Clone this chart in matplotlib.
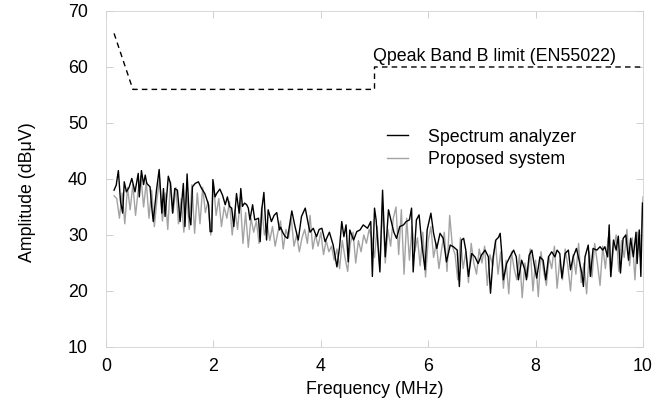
import numpy as np
import matplotlib.pyplot as plt

plt.rcParams['font.family'] = ['Liberation Sans', 'DejaVu Sans']
FS = 12.8

# EN55022 class B quasi-peak limit
limit_freq = [0.15, 0.50, 5.0, 5.0, 10.0]
limit_amp = [66.0, 56.0, 56.0, 60.0, 60.0]

# spectrum analyzer trace
sa_freq = [0.15, 0.19, 0.23, 0.27, 0.31, 0.34, 0.38, 0.43, 0.48, 0.54,
           0.60, 0.62, 0.66, 0.70, 0.73, 0.76, 0.82, 0.85, 0.88, 0.94,
           0.99, 1.04, 1.07, 1.10, 1.16, 1.20, 1.24, 1.28, 1.33, 1.38,
           1.44, 1.47, 1.51, 1.55, 1.58, 1.61, 1.66, 1.72, 1.78, 1.84,
           1.91, 1.94, 1.97, 1.99, 2.03, 2.06, 2.12, 2.17, 2.22, 2.26,
           2.30, 2.34, 2.38, 2.43, 2.48, 2.51, 2.54, 2.58, 2.62, 2.65,
           2.68, 2.73, 2.77, 2.84, 2.87, 2.90, 2.94, 2.99, 3.02, 3.08,
           3.13, 3.18, 3.23, 3.25, 3.30, 3.34, 3.38, 3.46, 3.52, 3.58,
           3.64, 3.71, 3.77, 3.80, 3.86, 3.92, 3.97, 4.02, 4.08, 4.16,
           4.23, 4.30, 4.35, 4.39, 4.43, 4.47, 4.51, 4.54, 4.61, 4.67,
           4.73, 4.79, 4.87, 4.93, 4.96, 5.00, 5.03, 5.10, 5.15, 5.20,
           5.26, 5.32, 5.36, 5.41, 5.47, 5.54, 5.59, 5.65, 5.69, 5.72,
           5.78, 5.83, 5.88, 5.94, 5.98, 6.05, 6.10, 6.16, 6.22, 6.28,
           6.34, 6.41, 6.47, 6.54, 6.58, 6.62, 6.66, 6.70, 6.75, 6.81,
           6.87, 6.93, 6.99, 7.06, 7.12, 7.16, 7.21, 7.26, 7.31, 7.34,
           7.37, 7.40, 7.46, 7.52, 7.59, 7.64, 7.68, 7.74, 7.80, 7.83,
           7.88, 7.93, 7.97, 8.02, 8.08, 8.14, 8.19, 8.24, 8.30, 8.36,
           8.40, 8.45, 8.49, 8.55, 8.61, 8.65, 8.70, 8.76, 8.81, 8.86,
           8.89, 8.92, 8.98, 9.02, 9.07, 9.14, 9.20, 9.25, 9.29, 9.34,
           9.37, 9.40, 9.45, 9.50, 9.54, 9.58, 9.63, 9.68, 9.73, 9.77,
           9.82, 9.87, 9.89, 9.93, 9.96, 9.99]
sa_amp = [38.0, 38.9, 41.5, 36.0, 33.9, 39.5, 37.7, 38.5, 40.1, 37.7,
          41.0, 36.8, 41.5, 39.0, 40.7, 39.2, 38.6, 35.1, 32.4, 38.0,
          41.7, 33.9, 38.3, 33.3, 40.5, 39.2, 33.9, 38.3, 38.0, 32.4,
          39.2, 31.5, 40.9, 33.3, 31.8, 38.6, 39.2, 39.5, 38.3, 37.4,
          35.4, 30.6, 30.6, 39.9, 36.8, 37.4, 38.2, 37.1, 35.4, 36.8,
          35.1, 34.8, 31.5, 37.4, 33.9, 38.3, 35.1, 35.7, 35.4, 34.8,
          32.7, 35.4, 32.7, 33.0, 28.8, 34.5, 37.6, 29.1, 34.5, 32.4,
          33.5, 34.0, 30.9, 31.4, 30.3, 29.7, 29.4, 34.3, 31.5, 29.1,
          33.3, 34.8, 31.8, 30.5, 31.2, 29.7, 31.0, 31.2, 28.8, 30.5,
          28.2, 24.3, 27.9, 32.4, 29.7, 31.8, 25.2, 30.9, 29.1, 30.6,
          30.9, 31.8, 31.2, 32.4, 22.6, 34.8, 32.7, 23.4, 38.0, 26.1,
          34.5, 32.1, 30.5, 29.4, 31.5, 31.8, 32.4, 32.7, 34.8, 23.4,
          32.7, 33.6, 28.5, 23.8, 30.9, 33.9, 30.3, 27.6, 30.3, 29.4,
          25.2, 28.2, 27.9, 27.3, 20.8, 29.1, 29.4, 27.3, 22.6, 26.7,
          26.1, 24.9, 26.4, 27.3, 26.1, 19.6, 26.1, 29.1, 29.6, 30.3,
          26.7, 22.0, 24.9, 26.1, 27.3, 26.1, 22.0, 25.5, 23.8, 22.0,
          26.4, 27.3, 24.9, 22.3, 26.1, 25.5, 22.0, 26.1, 27.0, 26.1,
          27.3, 26.7, 22.3, 26.7, 27.3, 23.8, 26.1, 27.6, 25.5, 23.2,
          20.8, 26.1, 28.2, 22.6, 27.6, 27.3, 27.9, 27.3, 27.9, 26.1,
          31.8, 22.6, 29.1, 27.3, 29.8, 23.2, 29.4, 30.0, 25.5, 29.4,
          26.1, 30.5, 24.9, 30.9, 22.6, 35.7]

# proposed system trace, 0.15-10 MHz every 50 kHz
ps_amp = [37.0, 36.5, 33.0, 37.5, 32.0, 38.5, 34.5, 39.0, 33.5, 38.0, 40.5, 35.0, 39.5, 33.0, 38.0, 31.5, 36.5,
          40.0, 32.5, 37.5, 31.0, 39.5, 34.0, 38.5, 32.0, 36.5, 30.5, 38.0, 31.0, 39.0, 30.3, 37.5, 32.0, 38.5, 34.0, 36.0, 30.0,
          39.5, 33.5, 36.5, 31.5, 35.0, 33.0, 36.0, 30.0, 34.5, 31.0, 36.5, 28.5, 34.0, 27.8, 33.0, 30.5, 32.5, 28.5, 35.0, 30.0,
          32.0, 29.0, 31.5, 28.0, 30.5, 32.5, 27.5, 31.0, 29.5, 33.0, 28.0, 30.0, 27.0, 29.5, 31.0, 28.5, 33.5, 27.5, 30.0, 28.0,
          30.5, 26.5, 29.0, 27.0, 28.0, 25.5, 27.5, 24.0, 29.0, 26.0, 23.5, 28.5, 30.5, 25.0, 29.0, 27.0, 30.0, 28.5, 31.0, 29.5,
          26.0, 31.5, 24.0, 35.5, 25.0, 31.0, 28.0, 33.0, 35.0, 26.5, 34.5, 23.0, 33.0, 25.5, 31.5, 27.0, 29.5, 24.5, 30.5, 22.5,
          29.0, 31.5, 26.0, 28.5, 24.0, 27.5, 30.5, 23.5, 33.5, 28.0, 26.5, 22.0, 29.5, 24.0, 27.0, 21.5, 28.5, 25.0, 23.0, 27.5,
          25.0, 28.0, 21.0, 26.5, 24.5, 29.0, 23.0, 27.0, 20.5, 25.5, 19.5, 27.0, 24.0, 22.0, 26.5, 18.8, 25.0, 22.5, 27.5, 20.0,
          25.5, 19.0, 27.0, 23.5, 21.0, 26.0, 24.0, 28.0, 20.5, 25.5, 22.0, 27.5, 24.5, 20.0, 26.5, 23.0, 28.5, 21.5, 25.0, 19.5,
          27.0, 22.5, 28.5, 25.0, 21.0, 28.0, 24.0, 29.5, 22.5, 27.5, 30.0, 23.5, 29.0, 26.0, 31.0, 24.5, 29.5, 22.0, 30.5, 26.0,
          36.8]
ps_freq = np.linspace(0.15, 10.0, len(ps_amp))

fig = plt.figure(figsize=(6.56, 4.04), dpi=100)
ax = fig.add_axes([0.1616, 0.1411, 0.8186, 0.8317])

l_ps, = ax.plot(ps_freq, ps_amp, color='#a3a3a3', lw=1.0, label='Proposed system')
l_sa, = ax.plot(sa_freq, sa_amp, color='black', lw=1.0, label='Spectrum analyzer')
ax.plot(limit_freq, limit_amp, color='black', lw=1.0, ls=(0, (4, 3)))
ax.text(4.97, 61.85, 'Qpeak Band B limit (EN55022)', fontsize=FS, va='center')

ax.legend(handles=[l_sa, l_ps], loc='upper left', bbox_to_anchor=(0.523, 0.65),
          frameon=False, fontsize=FS, borderpad=0, borderaxespad=0,
          handlelength=1.2, handletextpad=1.1, labelspacing=0.3)

ax.set_xlim(0, 10)
ax.set_ylim(10, 70)
ax.set_xticks(range(0, 11, 2))
ax.set_yticks(range(10, 71, 10))
ax.tick_params(axis='both', direction='in', length=5, width=0.6, color='#c8c8c8',
               labelsize=FS, top=True, right=True)
ax.tick_params(axis='x', pad=8)
ax.tick_params(axis='y', pad=13)
for s in ax.spines.values():
    s.set_color('#d2d2d2')
    s.set_linewidth(0.6)

ax.set_xlabel('Frequency (MHz)', fontsize=FS)
ax.set_ylabel('Amplitude (dB\u03bcV)', fontsize=FS)
ax.xaxis.set_label_coords(0.5, -0.1)
ax.yaxis.set_label_coords(-0.13, 0.461)

fig.savefig('out.png', dpi=100)
